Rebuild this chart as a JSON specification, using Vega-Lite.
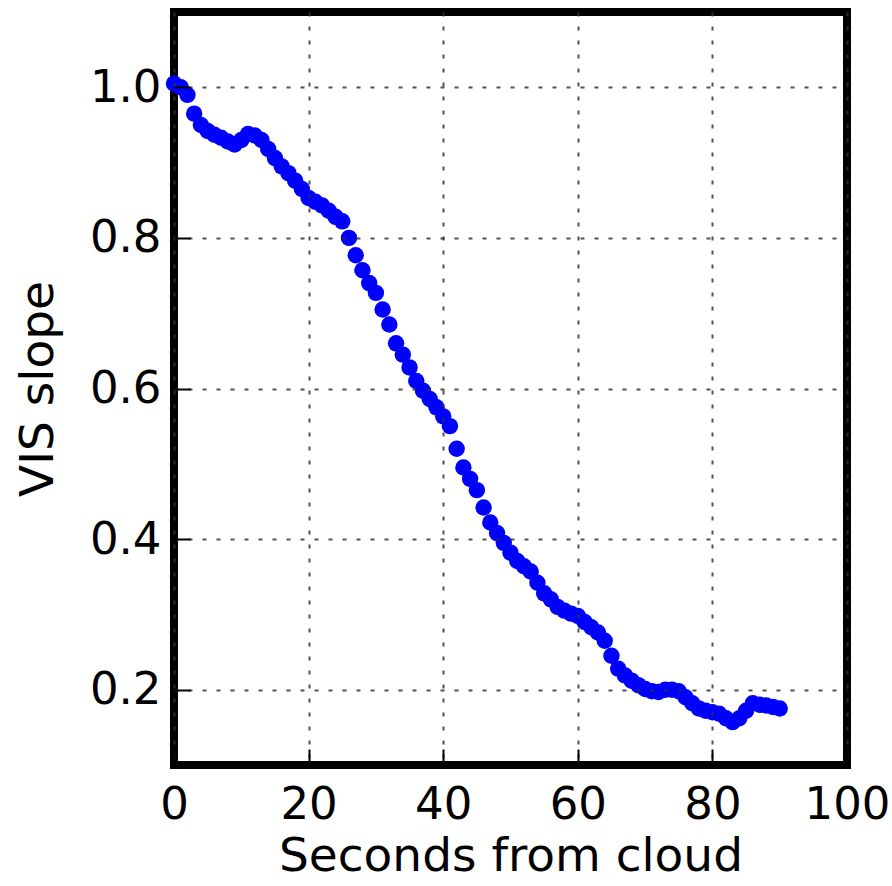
{
  "$schema": "https://vega.github.io/schema/vega-lite/v6.json",
  "autosize": {"type": "none"},
  "padding": {"left": 174, "top": 12, "right": 45, "bottom": 121},
  "width": 673,
  "height": 753,
  "background": "#ffffff",
  "config": {
    "view": {"stroke": "#000000", "strokeWidth": 8},
    "font": "DejaVu Sans",
    "axis": {
      "domain": false,
      "grid": true,
      "gridColor": "#333333",
      "gridOpacity": 0.85,
      "gridDash": [4, 10],
      "gridWidth": 2,
      "ticks": true,
      "tickSize": -16,
      "tickColor": "#000000",
      "tickWidth": 2,
      "labelFont": "DejaVu Sans",
      "labelFontSize": 45,
      "labelColor": "#000000",
      "titleFont": "DejaVu Sans",
      "titleFontSize": 47,
      "titleFontWeight": "normal",
      "titleColor": "#000000"
    }
  },
  "data": {
    "values": [
      {"t": 0, "slope": 1.005}, {"t": 1, "slope": 1.0}, {"t": 2, "slope": 0.99}, {"t": 3, "slope": 0.965},
      {"t": 4, "slope": 0.95}, {"t": 5, "slope": 0.942}, {"t": 6, "slope": 0.937}, {"t": 7, "slope": 0.933},
      {"t": 8, "slope": 0.928}, {"t": 9, "slope": 0.924}, {"t": 10, "slope": 0.93}, {"t": 11, "slope": 0.938},
      {"t": 12, "slope": 0.936}, {"t": 13, "slope": 0.93}, {"t": 14, "slope": 0.918}, {"t": 15, "slope": 0.906},
      {"t": 16, "slope": 0.895}, {"t": 17, "slope": 0.886}, {"t": 18, "slope": 0.876}, {"t": 19, "slope": 0.865},
      {"t": 20, "slope": 0.853}, {"t": 21, "slope": 0.848}, {"t": 22, "slope": 0.843}, {"t": 23, "slope": 0.836},
      {"t": 24, "slope": 0.828}, {"t": 25, "slope": 0.822}, {"t": 26, "slope": 0.8}, {"t": 27, "slope": 0.777},
      {"t": 28, "slope": 0.757}, {"t": 29, "slope": 0.74}, {"t": 30, "slope": 0.727}, {"t": 31, "slope": 0.705},
      {"t": 32, "slope": 0.685}, {"t": 33, "slope": 0.66}, {"t": 34, "slope": 0.645}, {"t": 35, "slope": 0.628},
      {"t": 36, "slope": 0.61}, {"t": 37, "slope": 0.597}, {"t": 38, "slope": 0.586}, {"t": 39, "slope": 0.575},
      {"t": 40, "slope": 0.563}, {"t": 41, "slope": 0.55}, {"t": 42, "slope": 0.52}, {"t": 43, "slope": 0.495},
      {"t": 44, "slope": 0.48}, {"t": 45, "slope": 0.465}, {"t": 46, "slope": 0.442}, {"t": 47, "slope": 0.422},
      {"t": 48, "slope": 0.408}, {"t": 49, "slope": 0.395}, {"t": 50, "slope": 0.382}, {"t": 51, "slope": 0.371},
      {"t": 52, "slope": 0.364}, {"t": 53, "slope": 0.357}, {"t": 54, "slope": 0.342}, {"t": 55, "slope": 0.328},
      {"t": 56, "slope": 0.32}, {"t": 57, "slope": 0.31}, {"t": 58, "slope": 0.305}, {"t": 59, "slope": 0.301},
      {"t": 60, "slope": 0.298}, {"t": 61, "slope": 0.29}, {"t": 62, "slope": 0.283}, {"t": 63, "slope": 0.276},
      {"t": 64, "slope": 0.265}, {"t": 65, "slope": 0.245}, {"t": 66, "slope": 0.228}, {"t": 67, "slope": 0.219},
      {"t": 68, "slope": 0.212}, {"t": 69, "slope": 0.206}, {"t": 70, "slope": 0.201}, {"t": 71, "slope": 0.198},
      {"t": 72, "slope": 0.197}, {"t": 73, "slope": 0.2}, {"t": 74, "slope": 0.2}, {"t": 75, "slope": 0.198},
      {"t": 76, "slope": 0.19}, {"t": 77, "slope": 0.182}, {"t": 78, "slope": 0.175}, {"t": 79, "slope": 0.172},
      {"t": 80, "slope": 0.17}, {"t": 81, "slope": 0.168}, {"t": 82, "slope": 0.162}, {"t": 83, "slope": 0.157},
      {"t": 84, "slope": 0.162}, {"t": 85, "slope": 0.172}, {"t": 86, "slope": 0.182}, {"t": 87, "slope": 0.18},
      {"t": 88, "slope": 0.179}, {"t": 89, "slope": 0.177}, {"t": 90, "slope": 0.175}
    ]
  },
  "mark": {"type": "circle", "color": "#0000ff", "opacity": 1, "size": 270},
  "encoding": {
    "x": {
      "field": "t",
      "type": "quantitative",
      "scale": {"domain": [0, 100], "nice": false, "zero": false},
      "axis": {"title": "Seconds from cloud", "values": [0, 20, 40, 60, 80, 100], "labelPadding": 33, "titlePadding": 6, "labelFlush": false, "zindex": 1}
    },
    "y": {
      "field": "slope",
      "type": "quantitative",
      "scale": {"domain": [0.1, 1.1], "nice": false, "zero": false},
      "axis": {"title": "VIS slope", "values": [0.2, 0.4, 0.6, 0.8, 1.0], "format": ".1f", "labelPadding": 29, "titlePadding": 27, "labelFlush": false, "zindex": 1}
    }
  }
}
